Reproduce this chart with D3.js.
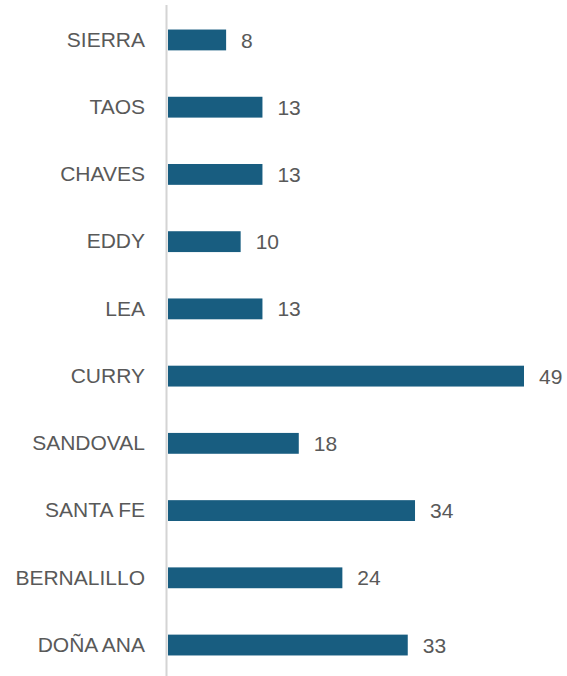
<!DOCTYPE html>
<html>
<head>
<meta charset="utf-8">
<script src="https://cdn.jsdelivr.net/npm/d3@7"></script>
<style>
  html, body { margin: 0; padding: 0; background: #fff; }
  svg { display: block; }
  text { font-family: "Liberation Sans", Arial, sans-serif; }
</style>
</head>
<body>
<div id="chart"></div>
<script>
// Counties, listed top to bottom
const counties = ["SIERRA", "TAOS", "CHAVES", "EDDY", "LEA", "CURRY", "SANDOVAL", "SANTA FE", "BERNALILLO", "DOÑA ANA"];
const counts = [8, 13, 13, 10, 13, 49, 18, 34, 24, 33];

const width = 567, height = 676;
const margin = { top: 6, right: 43, bottom: 0, left: 167 };

const svg = d3.select("#chart").append("svg")
  .attr("width", width)
  .attr("height", height);

const x = d3.scaleLinear()
  .domain([0, 49])
  .range([margin.left + 1, 524]);

const y = d3.scaleBand()
  .domain(counties)
  .range([margin.top, 679])
  .paddingInner(0.69)
  .paddingOuter(0.35);

const rows = counties.map((c, i) => ({ county: c, value: counts[i] }));

// bars
svg.append("g").selectAll("rect")
  .data(rows)
  .join("rect")
  .attr("x", x(0))
  .attr("y", d => y(d.county))
  .attr("width", d => x(d.value) - x(0))
  .attr("height", y.bandwidth())
  .attr("fill", "#185d80");

// vertical baseline
svg.append("line")
  .attr("x1", margin.left - 0.5)
  .attr("x2", margin.left - 0.5)
  .attr("y1", 5)
  .attr("y2", height)
  .attr("stroke", "#d4d4d4")
  .attr("stroke-width", 2);

// category labels
const yAxis = d3.axisLeft(y).tickSize(0).tickPadding(22);
const ga = svg.append("g")
  .attr("transform", `translate(${margin.left},0)`)
  .call(yAxis);
ga.select(".domain").remove();
ga.selectAll("text")
  .attr("font-family", "'Liberation Sans', Arial, sans-serif")
  .attr("font-size", 21)
  .attr("fill", "#595959");

// value labels
svg.append("g").selectAll("text")
  .data(rows)
  .join("text")
  .attr("x", d => x(d.value) + 15)
  .attr("y", d => y(d.county) + y.bandwidth() / 2)
  .attr("dy", "0.36em")
  .attr("font-size", 21)
  .attr("fill", "#595959")
  .text(d => d.value);
</script>
</body>
</html>
